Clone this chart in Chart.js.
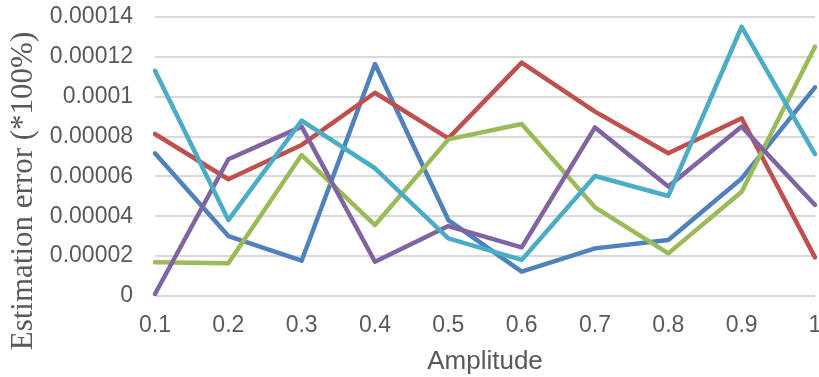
<!DOCTYPE html>
<html>
<head>
<meta charset="utf-8">
<script src="https://cdn.jsdelivr.net/npm/chart.js@4/dist/chart.umd.min.js"></script>
<style>
  html, body { margin: 0; padding: 0; background: #ffffff; }
  #wrap { width: 819px; height: 377px; position: relative; }
</style>
</head>
<body>
<div id="wrap"><canvas id="c" width="819" height="377"></canvas></div>
<script>
const amplitudes = ['0.1', '0.2', '0.3', '0.4', '0.5', '0.6', '0.7', '0.8', '0.9', '1'];
const yTickLabels = ['0', '0.00002', '0.00004', '0.00006', '0.00008', '0.0001', '0.00012', '0.00014'];
const seriesBlue   = [0.0000716, 0.0000301, 0.0000177, 0.0001164, 0.0000381, 0.0000122, 0.0000239, 0.0000281, 0.0000590, 0.0001047];
const seriesRed    = [0.0000813, 0.0000586, 0.0000758, 0.0001020, 0.0000791, 0.0001171, 0.0000925, 0.0000716, 0.0000892, 0.0000194];
const seriesGreen  = [0.0000169, 0.0000164, 0.0000707, 0.0000356, 0.0000786, 0.0000863, 0.0000445, 0.0000214, 0.0000523, 0.0001251];
const seriesPurple = [0.0000010, 0.0000686, 0.0000850, 0.0000172, 0.0000351, 0.0000244, 0.0000846, 0.0000549, 0.0000850, 0.0000457];
const seriesCyan   = [0.0001130, 0.0000381, 0.0000880, 0.0000641, 0.0000289, 0.0000181, 0.0000602, 0.0000502, 0.0001351, 0.0000712];
const yTitle = 'Estimation error (*100%)';
const xTitle = 'Amplitude';

const textColor = '#595959';

const yTitlePlugin = {
  id: 'yTitlePlugin',
  afterDraw(chart) {
    const ctx = chart.ctx;
    ctx.save();
    ctx.translate(24, 191);
    ctx.rotate(-Math.PI / 2);
    ctx.font = '31px "Liberation Serif", "Times New Roman", serif';
    ctx.fillStyle = textColor;
    ctx.textAlign = 'center';
    ctx.textBaseline = 'middle';
    ctx.fillText(yTitle, 0, 0);
    ctx.restore();
  }
};

function ds(data, color, order) {
  return {
    data: data,
    borderColor: color,
    backgroundColor: color,
    borderWidth: 4.5,
    pointRadius: 0,
    pointHoverRadius: 0,
    tension: 0,
    fill: false,
    borderJoinStyle: 'round',
    borderCapStyle: 'round',
    order: order
  };
}

new Chart(document.getElementById('c'), {
  type: 'line',
  data: {
    labels: amplitudes,
    datasets: [
      ds(seriesBlue, '#4F81BD', 5),
      ds(seriesRed, '#C0504D', 4),
      ds(seriesGreen, '#9BBB59', 3),
      ds(seriesPurple, '#8064A2', 2),
      ds(seriesCyan, '#4BACC6', 1)
    ]
  },
  options: {
    responsive: false,
    animation: false,
    devicePixelRatio: 1,
    layout: { padding: { left: 0, right: 4, top: 17, bottom: 0 } },
    plugins: {
      legend: { display: false },
      tooltip: { enabled: false },
      title: { display: false }
    },
    scales: {
      x: {
        type: 'category',
        offset: false,
        grid: { display: false, drawTicks: false },
        border: { display: false },
        afterFit(scale) {
          scale.height = 81;
          scale.paddingLeft = 0;
          scale.paddingRight = 0;
        },
        ticks: {
          color: textColor,
          font: { family: '"Liberation Sans", Arial, sans-serif', size: 23 },
          padding: 16,
          maxRotation: 0,
          autoSkip: false
        },
        title: {
          display: true,
          text: xTitle,
          color: textColor,
          font: { family: '"Liberation Sans", Arial, sans-serif', size: 26 },
          padding: { top: 0, bottom: 0 }
        }
      },
      y: {
        type: 'linear',
        min: 0,
        max: 0.00014,
        grid: { color: '#d9d9d9', lineWidth: 2, drawTicks: false },
        border: { display: false },
        afterFit(scale) {
          scale.width = 155;
          scale.paddingTop = 0;
          scale.paddingBottom = 0;
        },
        afterBuildTicks(scale) {
          scale.ticks = yTickLabels.map((l, i) => ({ value: i * 0.00002 }));
        },
        ticks: {
          color: textColor,
          font: { family: '"Liberation Sans", Arial, sans-serif', size: 23 },
          padding: 22,
          callback: (v, i) => yTickLabels[i]
        }
      }
    }
  },
  plugins: [yTitlePlugin]
});
</script>
</body>
</html>
